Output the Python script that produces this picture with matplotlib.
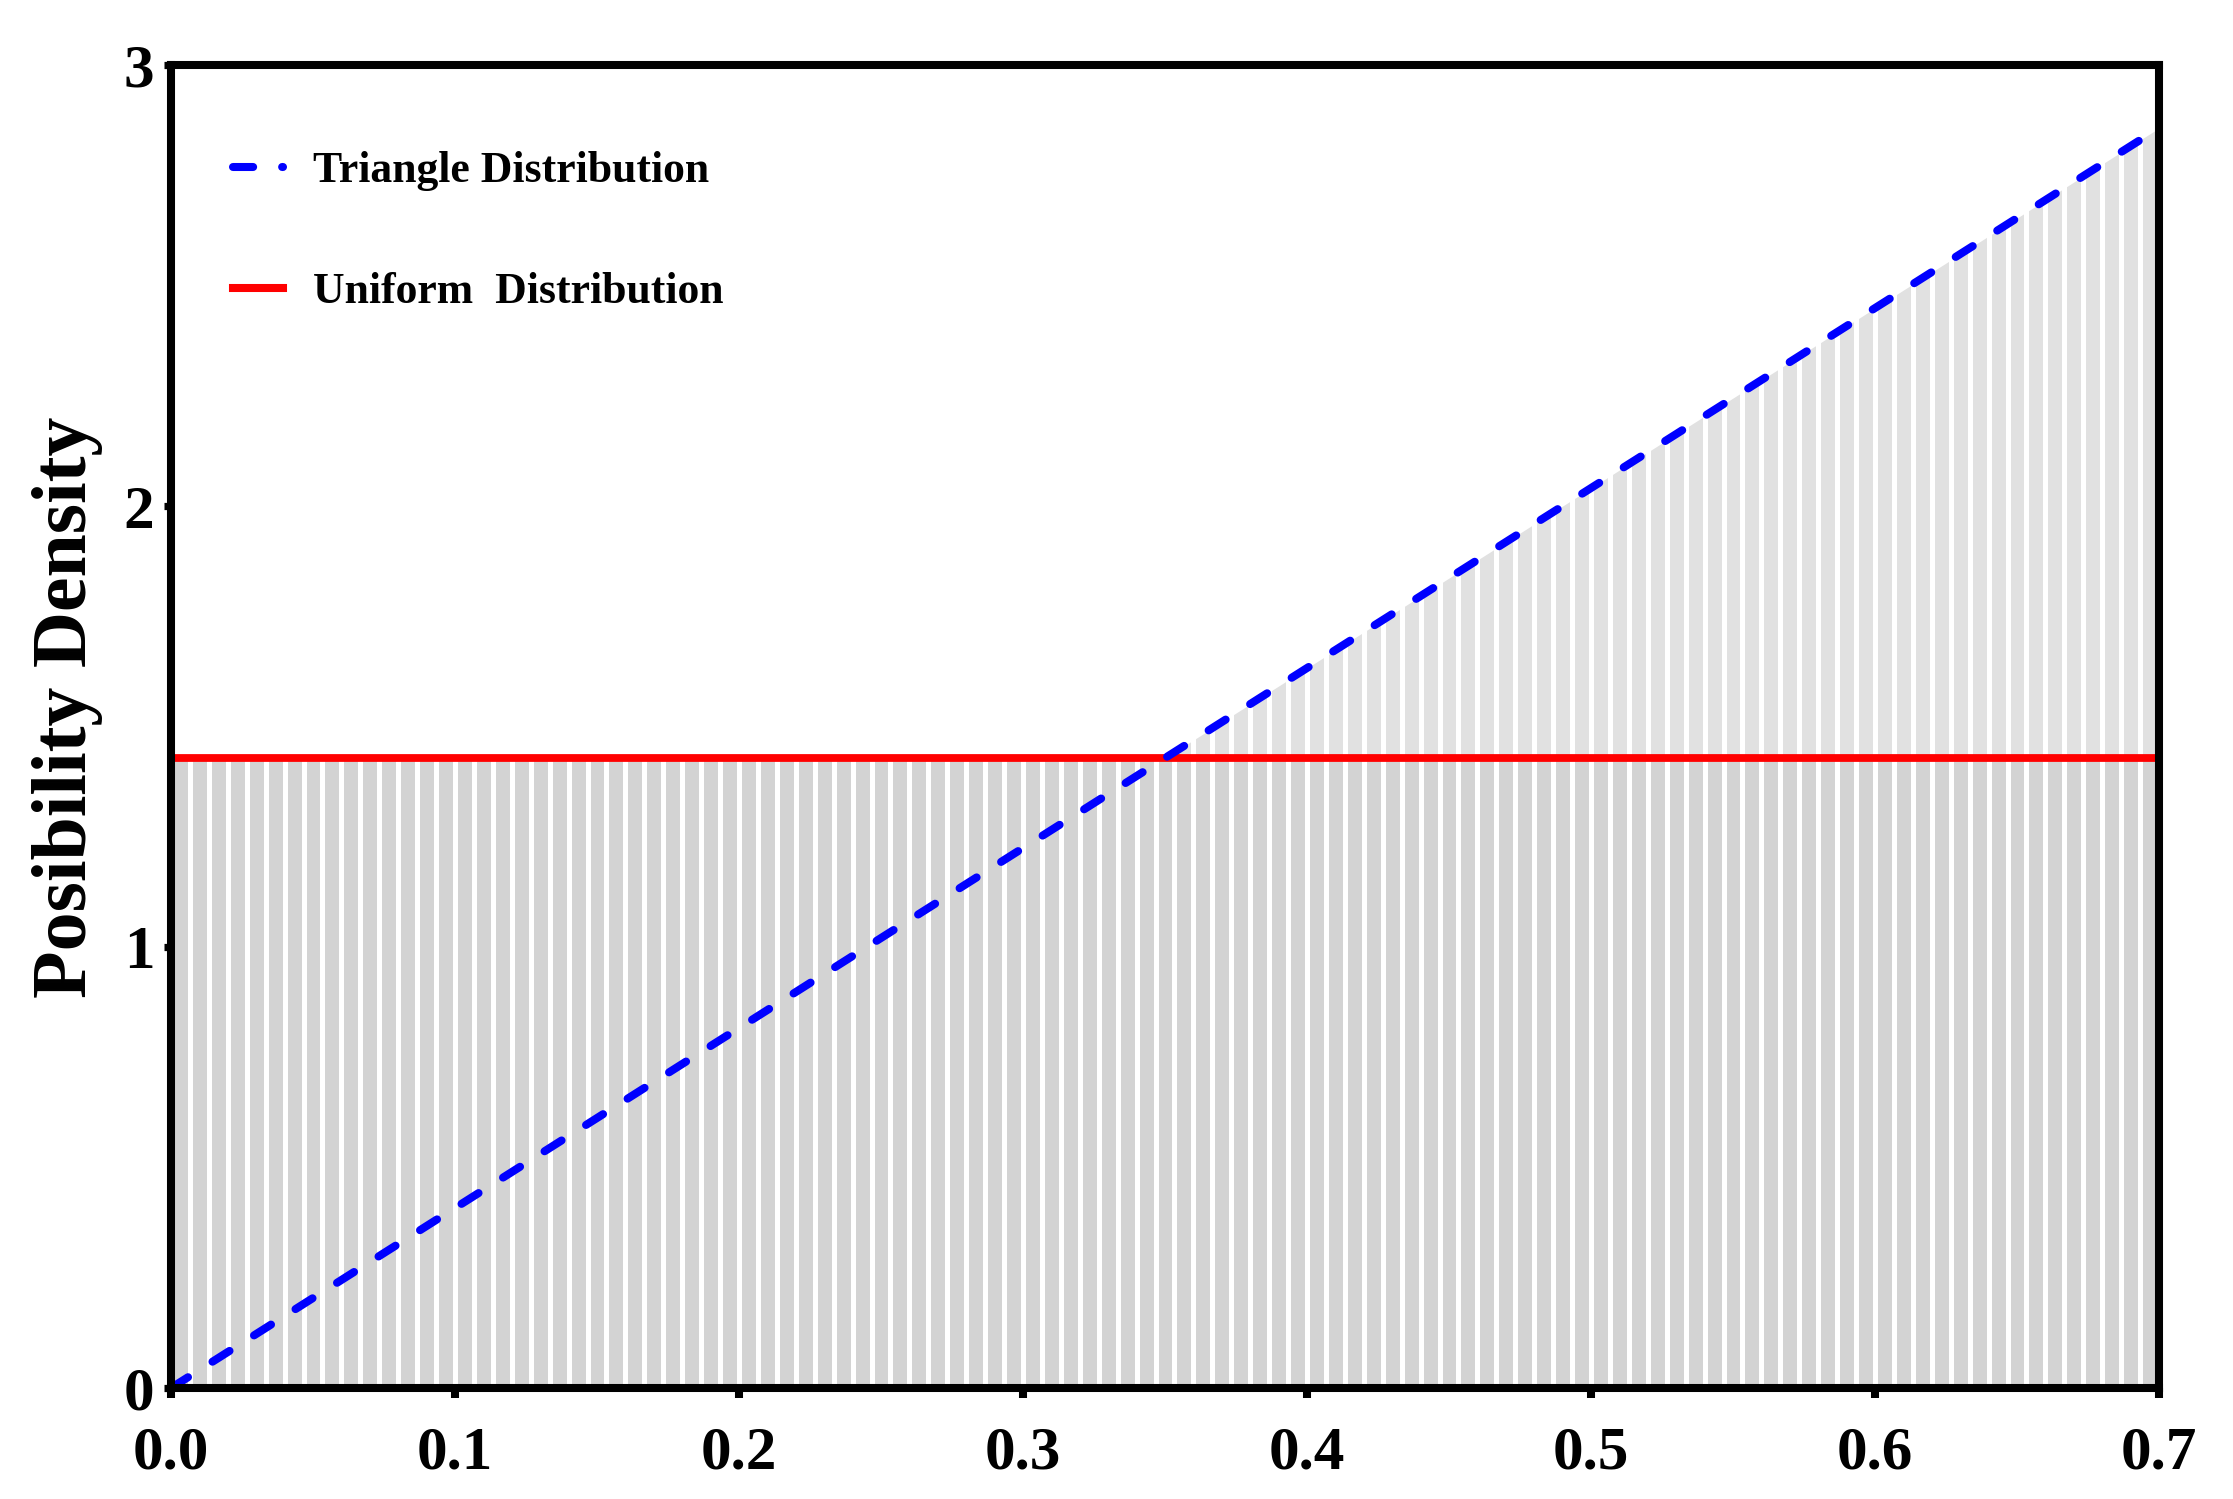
import numpy as np
import matplotlib
matplotlib.use("Agg")
import matplotlib.pyplot as plt
from matplotlib.lines import Line2D

# ---- data ----
tri_x = [0.0, 0.7]
tri_y = [0.0, 2.857]
uni_x = [0.0, 0.7]
uni_y = [1.4286, 1.4286]
x_ticks = [0.0, 0.1, 0.2, 0.3, 0.4, 0.5, 0.6, 0.7]
x_labels = ["0.0", "0.1", "0.2", "0.3", "0.4", "0.5", "0.6", "0.7"]
y_ticks = [0, 1, 2, 3]
y_labels = ["0", "1", "2", "3"]
series_labels = ["Triangle Distribution", "Uniform  Distribution"]
y_title = "Posibility Density"

plt.rcParams['font.family'] = ['Liberation Serif', 'DejaVu Serif']
plt.rcParams['font.weight'] = 'bold'

DPI = 100
fig = plt.figure(figsize=(2233 / DPI, 1499 / DPI), dpi=DPI)
ax = fig.add_axes([171 / 2233, 1 - 1388 / 1499, (2159 - 171) / 2233, (1388 - 65) / 1499])

# shaded areas
ax.fill_between(tri_x, 0, tri_y, color='#e1e1e1', lw=0, zorder=1)
ax.fill_between(uni_x, 0, uni_y, color='#d3d3d3', lw=0, zorder=1.1)
# white stripe pattern over the shading
stripe_step = 0.7 / 105
stripes = np.arange(0, 0.7 + 1e-9, stripe_step)
ax.vlines(stripes, 0, 1, transform=ax.get_xaxis_transform(), colors='white',
          lw=3.6, zorder=1.2)

ax.plot(uni_x, uni_y, color='#ff0000', lw=5.6, zorder=3, solid_capstyle='butt')
ax.plot(tri_x, tri_y, color='#0000ff', lw=5.8, zorder=3.2,
        dashes=(2.5, 3.6), dash_capstyle='round')

ax.set_xlim(0, 0.7)
ax.set_ylim(0, 3)
ax.set_xticks(x_ticks)
ax.set_xticklabels(x_labels)
ax.set_yticks(y_ticks)
ax.set_yticklabels(y_labels)
for s in ax.spines.values():
    s.set_linewidth(5.8)
    s.set_zorder(4)
ax.tick_params(axis='x', direction='out', length=7, width=5.8, labelsize=44, pad=20)
ax.tick_params(axis='y', direction='out', length=5, width=5.2, labelsize=44, pad=7)
for lab in ax.get_xticklabels() + ax.get_yticklabels():
    lab.set_fontweight('bold')

fig.text(68 / 2233, 1 - 707 / 1499, y_title, rotation=90, ha='center', va='center',
         fontsize=56, fontweight='bold')

handles = [
    Line2D([], [], color='#0000ff', lw=5.8, dashes=(2.5, 3.6), dash_capstyle='round'),
    Line2D([], [], color='#ff0000', lw=5.8),
]
leg = ax.legend(handles, series_labels, loc='upper left',
                bbox_to_anchor=(0.031, 0.935), frameon=False,
                prop={'family': 'Liberation Serif', 'weight': 'bold', 'size': 31.5},
                handlelength=1.15, handletextpad=0.68, labelspacing=1.85,
                borderpad=0, borderaxespad=0)

fig.savefig("out.png", dpi=DPI)
